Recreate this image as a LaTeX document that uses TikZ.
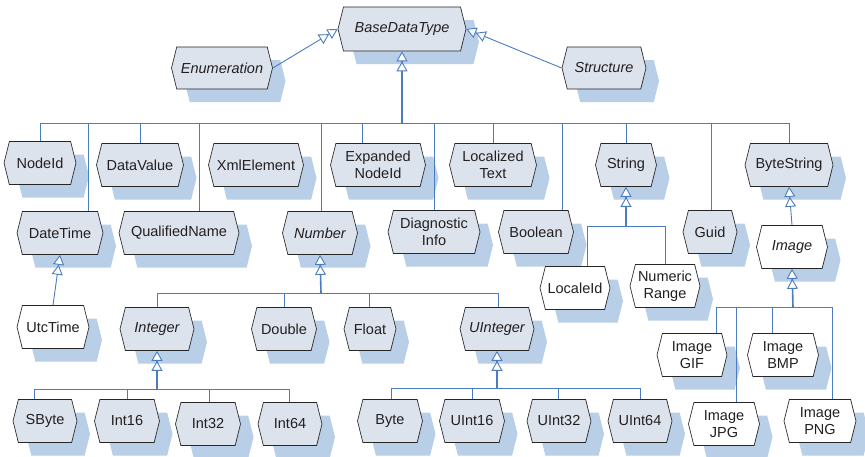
\documentclass[tikz,border=0pt]{standalone}
\usepackage{fontspec}
\setmainfont{Liberation Sans}
\usetikzlibrary{shapes.symbols,shadows,arrows.meta}
\definecolor{nodefill}{HTML}{DCE3ED}
\definecolor{shadowc}{HTML}{B8CFE7}
\definecolor{linec}{HTML}{4A7CBF}
\definecolor{txt}{HTML}{231F20}
\tikzset{
  hexbox/.style={signal, signal to=east and west, signal pointer angle=152,
    draw=black!85, line width=0.7pt, fill=nodefill, text=txt,
    font=\fontsize{14.5}{17}\selectfont, align=center,
    minimum height=43pt, inner xsep=2pt, inner ysep=1pt,
    drop shadow={shadow xshift=13pt, shadow yshift=-13pt, fill=shadowc, opacity=1, draw=none}},
  plain/.style={fill=white},
  abstr/.style={font=\fontsize{14.5}{17}\selectfont\itshape},
  conn/.style={draw=linec, line width=0.9pt},
  trunk/.style={draw=linec, line width=1.6pt},
  inh/.style={-{Triangle[open,fill=white,length=10pt,width=11pt,line width=0.9pt] Triangle[open,fill=white,length=10pt,width=11pt,line width=0.9pt]}},
}
\begin{document}
\begin{tikzpicture}[x=1pt,y=-1pt]
\useasboundingbox (0,0) rectangle (865,456);
% top
\node[hexbox, abstr, minimum width=128pt, minimum height=44pt] (base) at (402,29) {BaseDataType};
\node[hexbox, abstr, minimum width=101pt, minimum height=42pt] (enum) at (222,68) {Enumeration};
\node[hexbox, abstr, minimum width=84pt, minimum height=42pt] (struct) at (604,68) {Structure};
% row 1
\node[hexbox, minimum width=72pt] (nodeid) at (40,163) {NodeId};
\node[hexbox, minimum width=87pt] (datavalue) at (140,165) {DataValue};
\node[hexbox, minimum width=95pt] (xmlelement) at (256,165) {XmlElement};
\node[hexbox, minimum width=95pt] (expanded) at (378,165) {Expanded\\NodeId};
\node[hexbox, minimum width=87pt] (localized) at (493,165) {Localized\\Text};
\node[hexbox, minimum width=61pt] (string) at (626,165) {String};
\node[hexbox, minimum width=88pt] (bytestring) at (789,165) {ByteString};
% row 2
\node[hexbox, minimum width=86pt] (datetime) at (60,233) {DateTime};
\node[hexbox, minimum width=120pt] (qualified) at (179,233) {QualifiedName};
\node[hexbox, abstr, minimum width=75pt] (number) at (320,233) {Number};
\node[hexbox, minimum width=92pt] (diagnostic) at (434,232) {Diagnostic\\Info};
\node[hexbox, minimum width=75pt] (boolean) at (536,232) {Boolean};
\node[hexbox, minimum width=54pt] (guid) at (710,232) {Guid};
\node[hexbox, abstr, plain, minimum width=71pt] (image) at (792,247) {Image};
\node[hexbox, plain, minimum width=70pt] (localeid) at (575,288) {LocaleId};
\node[hexbox, plain, minimum width=70pt] (numrange) at (665,286) {Numeric\\Range};
% row 3
\node[hexbox, plain, minimum width=72pt] (utctime) at (53,327) {UtcTime};
\node[hexbox, abstr, minimum width=74pt] (integer) at (157,329) {Integer};
\node[hexbox, minimum width=65pt] (double) at (284,329) {Double};
\node[hexbox, minimum width=52pt] (float) at (370,329) {Float};
\node[hexbox, abstr, minimum width=74pt] (uinteger) at (497,329) {UInteger};
\node[hexbox, plain, minimum width=70pt] (imagegif) at (692,355) {Image\\GIF};
\node[hexbox, plain, minimum width=71pt] (imagebmp) at (783,355) {Image\\BMP};
% row 4
\node[hexbox, minimum width=64pt] (sbyte) at (45,421) {SByte};
\node[hexbox, minimum width=65pt] (int16) at (127,421) {Int16};
\node[hexbox, minimum width=65pt] (int32) at (208,424) {Int32};
\node[hexbox, minimum width=64pt] (int64) at (290,424) {Int64};
\node[hexbox, minimum width=65pt] (byte) at (390,421) {Byte};
\node[hexbox, minimum width=65pt] (uint16) at (472,421) {UInt16};
\node[hexbox, minimum width=64pt] (uint32) at (559,421) {UInt32};
\node[hexbox, minimum width=64pt] (uint64) at (640,421) {UInt64};
\node[hexbox, plain, minimum width=71pt] (imagejpg) at (724,424) {Image\\JPG};
\node[hexbox, plain, minimum width=72pt] (imagepng) at (820,421) {Image\\PNG};

% connectors: top
\draw[conn, inh] (enum.east) -- (base.west);
\draw[conn, inh] (struct.west) -- (base.east);
\coordinate (bt) at (402,123);
\draw[trunk, inh] (bt) -- (base.south);
\coordinate (bl) at (40,123);
\coordinate (br) at (790,123);
\draw[conn] (bl) -- (br);
\foreach \x/\n in {40/nodeid, 88/datetime, 140/datavalue, 199/qualified, 321/number, 362/expanded, 434/diagnostic, 493/localized, 562/boolean, 626/string, 711/guid, 789/bytestring}{
  \coordinate (tap) at (\x,123);
  \draw[conn] (tap) -- (tap |- \n.north);
}
% String
\coordinate (st) at (626,226);
\draw[trunk, inh] (st) -- (string.south);
\coordinate (sl) at (587,226);
\coordinate (sr) at (665,226);
\draw[conn] (sl) -- (sr);
\draw[conn] (sl) -- (sl |- localeid.north);
\draw[conn] (sr) -- (sr |- numrange.north);
% ByteString, DateTime
\draw[conn, inh] (image.north) -- (bytestring.south);
\draw[conn, inh] (utctime.north) -- (datetime.south);
% Number
\coordinate (nt) at (321,293);
\draw[trunk, inh] (nt) -- (number.south);
\coordinate (nl) at (157,293);
\coordinate (nr) at (498,293);
\draw[conn] (nl) -- (nr);
\foreach \x/\n in {157/integer, 284/double, 369/float, 498/uinteger}{
  \coordinate (tap) at (\x,293);
  \draw[conn] (tap) -- (tap |- \n.north);
}
% Integer
\coordinate (it) at (157,389);
\draw[trunk, inh] (it) -- (integer.south);
\coordinate (il) at (34,389);
\coordinate (ir) at (289,389);
\draw[conn] (il) -- (ir);
\foreach \x/\n in {34/sbyte, 127/int16, 209/int32, 289/int64}{
  \coordinate (tap) at (\x,389);
  \draw[conn] (tap) -- (tap |- \n.north);
}
% UInteger
\coordinate (ut) at (497,388);
\draw[trunk, inh] (ut) -- (uinteger.south);
\coordinate (ul) at (391,388);
\coordinate (ur) at (640,388);
\draw[conn] (ul) -- (ur);
\foreach \x/\n in {391/byte, 472/uint16, 558/uint32, 640/uint64}{
  \coordinate (tap) at (\x,388);
  \draw[conn] (tap) -- (tap |- \n.north);
}
% Image
\coordinate (mt) at (793,307);
\draw[trunk, inh] (mt) -- (image.south);
\coordinate (ml) at (716,307);
\coordinate (mr) at (832,307);
\draw[conn] (ml) -- (mr);
\foreach \x/\n in {716/imagegif, 736/imagejpg, 772/imagebmp, 832/imagepng}{
  \coordinate (tap) at (\x,307);
  \draw[conn] (tap) -- (tap |- \n.north);
}
\end{tikzpicture}
\end{document}
